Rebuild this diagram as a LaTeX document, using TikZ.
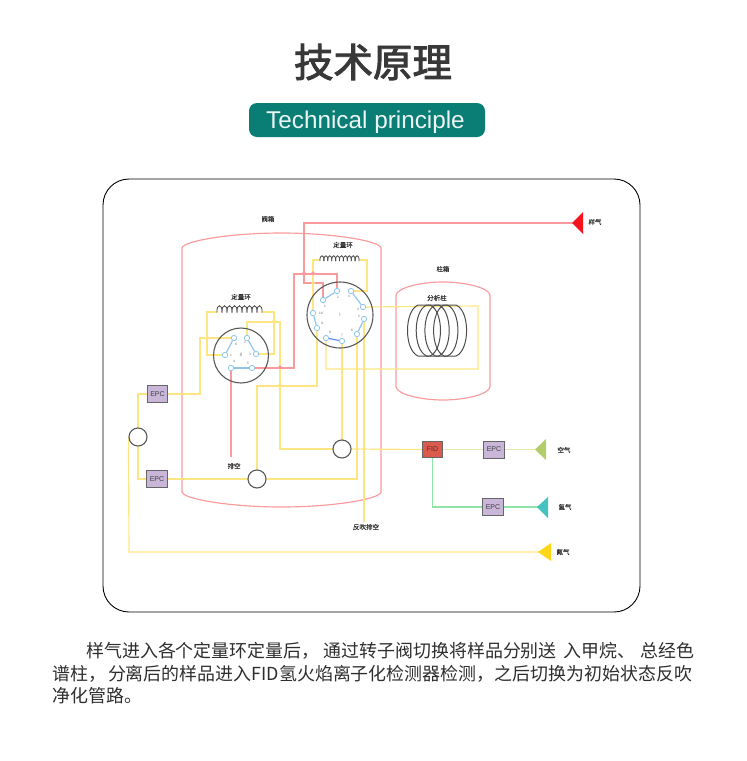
\documentclass[tikz,border=0pt]{standalone}
\usepackage{fontspec}
\setmainfont{Liberation Sans}
\newfontfamily\cjk{Noto Sans CJK SC}
\newfontfamily\cjkm[FakeBold=.15]{Noto Sans CJK SC}
\newfontfamily\cjkb[FakeBold=2.4]{Noto Sans CJK SC}
\usepackage{tikz}
\usetikzlibrary{calc}
\usetikzlibrary{positioning}
\usetikzlibrary{backgrounds}
\definecolor{pipeY}{HTML}{FDE681}
\definecolor{pipeR}{HTML}{FB9A9C}
\definecolor{pipeB}{HTML}{8FC6EC}
\definecolor{pipeG}{HTML}{8FE3A8}
\definecolor{pipeL}{HTML}{E3EBAA}
\definecolor{epcFill}{HTML}{C9B6D9}
\definecolor{fidFill}{HTML}{DB5A4E}
\definecolor{tealTag}{HTML}{0A7D74}
\definecolor{srcS}{HTML}{F5141E}
\definecolor{srcA}{HTML}{B5CC6A}
\definecolor{srcH}{HTML}{45C3C0}
\definecolor{srcN}{HTML}{FFD71A}
\begin{document}
\begin{tikzpicture}[
x=1pt,y=-1pt,
YPipe/.style={draw=pipeY,line width=1.15pt},
RPipe/.style={draw=pipeR,line width=1.15pt},
BPipe/.style={draw=pipeB,line width=1.2pt},
GPipe/.style={draw=pipeG,line width=1.15pt},
LPipe/.style={draw=pipeL,line width=1.15pt},
EPC/.style={draw=black!60,fill=epcFill,line width=.9pt,minimum width=20.5pt,minimum height=17pt,inner sep=0pt,font=\fontsize{7}{7}\selectfont,text=black!75},
Valve/.style={circle,draw=black!65,fill=white,line width=1.1pt,minimum size=18pt,inner sep=0pt},
Rotor/.style={circle,draw=black!65,line width=1.1pt,inner sep=0pt},
Port/.style={circle,draw=pipeB,fill=white,line width=.8pt,minimum size=5.4pt,inner sep=0pt},
Tag/.style={font=\cjkm\fontsize{6.5}{7}\selectfont,text=black!80,inner sep=0pt},
Num/.style={font=\fontsize{3.2}{3}\selectfont,text=black!60,inner sep=0pt},
Coil/.style={draw=black!70,line width=.85pt},
Column/.style={draw=black!70,line width=1pt}
]
\useasboundingbox (0,0) rectangle (747,761);

%title
\node[font=\cjkb\fontsize{39.5}{40}\selectfont,text=black!78,inner sep=0pt] (Title) at (373,62) {技术原理};
\node[fill=tealTag,rounded corners=8pt,minimum width=236pt,minimum height=34pt,inner sep=0pt,text=white!92!tealTag,text height=16pt,text depth=0pt,font=\fontsize{24.3}{25}\selectfont] (Subtitle) at (367,120) {\hspace*{-3pt}Technical principle};

%frame
\draw[black,line width=.9pt,rounded corners=26pt] (103,179) rectangle (640,612);

%rotary valve II
\node[Rotor,minimum size=55pt] (RotorB) at (241,355.5) {};
\node[Num,font=\cjk\fontsize{4.5}{4}\selectfont] (RotorBName) at (241,355) {II};
\node[Port] (Bp1) at (225,355) {};
\node[Port] (Bp2) at (256,354) {};
\node[Port] (Bp3) at (234,338) {};
\node[Port] (Bp4) at (247,338) {};
\node[Port] (Bp5) at (231,368) {};
\node[Port] (Bp6) at (252,368) {};
\node[Num] (Bn1) at (231,355) {1};
\node[Num] (Bn2) at (245,342) {2};
\node[Num] (Bn3) at (250,354) {3};
\node[Num] (Bn4) at (234,361) {4};
\node[Num] (Bn5) at (248,363) {5};
\node[Num] (Bn6) at (236,344) {6};

%rotary valve I
\node[Rotor,minimum size=66pt] (RotorA) at (340,315) {};
\node[Num,font=\cjk\fontsize{4.5}{4}\selectfont] (RotorAName) at (340,315) {I};
\node[Port] (Ap1) at (323,300) {};
\node[Port] (Ap2) at (337,291) {};
\node[Port] (Ap3) at (351,291) {};
\node[Port] (Ap4) at (363,307) {};
\node[Port] (Ap5) at (364,319) {};
\node[Port] (Ap6) at (357,334) {};
\node[Port] (Ap7) at (342,341) {};
\node[Port] (Ap8) at (326,338) {};
\node[Port] (Ap9) at (317,328) {};
\node[Port] (Ap10) at (313,313) {};
\foreach \Nx/\Ny/\Nt in {325/306/1,338/297/2,349/296/3,358/309/4,359/316/5,352/330/6,342/335/7,330/332/8,322/323/9,321/313/10}
  \node[Num] at (\Nx,\Ny) {\Nt};

%boxes
\node[EPC] (EpcA) at (157.5,394) {EPC};
\node[EPC] (EpcB) at (157,479) {EPC};
\node[EPC] (EpcC) at (494,449.5) {EPC};
\node[EPC] (EpcD) at (493,507) {EPC};
\node[EPC,fill=fidFill,text=black!55!fidFill,minimum height=16pt] (Fid) at (432.5,449.5) {FID};
\node[Valve] (ValveA) at (138,437) {};
\node[Valve] (ValveB) at (257,479) {};
\node[Valve] (ValveC) at (342,449) {};

%line ends
\coordinate (SampleEnd) at (575,223);
\coordinate (AirEnd) at (540,449.5);
\coordinate (HydrEnd) at (540,507);
\coordinate (NitrEnd) at (541,552);
\coordinate (VentEnd) at (231,457);
\coordinate (BackEnd) at (364,522);

%column box corners
\coordinate (ColTop) at (478,306);
\coordinate (ColBot) at (478,369);

\begin{scope}[on background layer]
%ovens
\draw[RPipe] (182,248) -- (182,492) .. controls (183,499) and (230,507) .. (281.5,507) .. controls (333,507) and (380,499) .. (381,492) -- (381,248) .. controls (380,241) and (333,233) .. (281.5,233) .. controls (230,233) and (183,241) .. (182,248) -- cycle;
\draw[RPipe] (396,295) .. controls (397,288) and (420,282) .. (443,282) .. controls (466,282) and (489,288) .. (490,295) -- (490,387) .. controls (489,394) and (466,400) .. (443,400) .. controls (420,400) and (397,394) .. (396,387) -- cycle;

%yellow lines
\draw[YPipe] (Ap10.center) -- (313,260) -- (320,260);
\draw[YPipe] (359,260) -- (367,260) -- (367,291) -- (Ap3.center);
\draw[YPipe] (217,312) -- (207,312) -- (207,355) -- (Bp1.center);
\draw[YPipe] (262,312) -- (274,312) -- (274,354) -- (Bp2.center);
\draw[YPipe] (Bp4.center) -- (247,322) -- (280,322) -- (280,449) -- (ValveC.center);
\draw[YPipe] (Bp3.center) -- (200,338) -- (200,394) -- (EpcA.center);
\draw[YPipe] (EpcA.center) -- (138,394) -- (138,479) -- (EpcB.center);
\draw[YPipe] (EpcB.center) -- (357,479) -- (Ap6.center);
\draw[YPipe] (ValveB.center) -- (257,386) -- (317,386) -- (Ap9.center);
\draw[YPipe] (Ap7.center) -- (ValveC.center);
\draw[YPipe] (Ap8.center) -- (326,369) -- (ColBot) -- (ColTop) -- (Ap4.center);
\draw[YPipe] (Ap5.center) -- (BackEnd);
\draw[YPipe] (ValveC.center) -- (Fid.center);
\draw[YPipe] (ValveA.west) -- (129,552) -- (NitrEnd);
\draw[LPipe] (Fid.center) -- (AirEnd);
\draw[GPipe] (Fid.center) -- (432.5,507) -- (HydrEnd);

%sample line
\draw[RPipe] (SampleEnd) -- (304,223) -- (304,283) -- (323,283) -- (Ap1.center);
\draw[RPipe] (Ap2.center) -- (337,274) -- (294,274) -- (294,368) -- (Bp6.center);
\draw[RPipe] (Bp5.center) -- (VentEnd);

%junction bumps
\foreach \Jx/\Jy/\Jc in {304/273/pipeR,313/273/pipeR,313/283/pipeY,207/338/pipeY,274/321/pipeY,280/367/pipeR,280/385/pipeY,357/448.5/pipeY,364/448.5/pipeY}
  \fill[\Jc] (\Jx,\Jy) circle (1.8pt);

%links in the rotors
\draw[BPipe] (Bp1) -- (Bp3);
\draw[BPipe] (Bp2) -- (Bp4);
\draw[BPipe] (Bp5) -- (Bp6);
\draw[BPipe] (Ap1) -- (Ap2);
\draw[BPipe] (Ap3) -- (Ap4);
\draw[BPipe] (Ap5) -- (Ap6);
\draw[BPipe,draw=pipeB!70!blue] (Ap7) -- (Ap8);
\draw[BPipe] (Ap9) -- (Ap10);
\end{scope}

%coils
\foreach \k in {0,...,9}
  \draw[Coil] ({320+\k*3.9},261) .. controls ({319.5+\k*3.9},254) and ({324.5+\k*3.9},254) .. ({323.9+\k*3.9},261);
\foreach \k in {0,...,8}
  \draw[Coil] ({217+\k*5},312.5) .. controls ({216.3+\k*5},303.5) and ({222.7+\k*5},303.5) .. ({222+\k*5},312.5);

%column
\foreach \Cx in {0,8.7,17.4,26.1}
  \draw[Column] (\Cx+418,305) .. controls (\Cx+404,311) and (\Cx+404,350) .. (\Cx+418,356) -- (\Cx+430,356) .. controls (\Cx+444,350) and (\Cx+444,311) .. (\Cx+430,305) -- cycle;

%tags
\node[Tag] (OvenA) at (268,219) {阀箱};
\node[Tag] (OvenB) at (443,269) {柱箱};
\node[Tag] (ColumnName) at (437,298) {分析柱};
\node[Tag] (LoopA) at (343,245) {定量环};
\node[Tag] (LoopB) at (241,297) {定量环};
\node[Tag] (VentA) at (234,466) {排空};
\node[Tag] (VentB) at (366,527) {反吹排空};
\node[Tag] (GasS) at (595,222) {样气};
\node[Tag] (GasA) at (564,450) {空气};
\node[Tag] (GasH) at (565,507) {氢气};
\node[Tag] (GasN) at (563,552) {氮气};

%sources
\fill[srcS] (572,223) -- (583,212) -- (583,234) -- cycle;
\fill[srcA] (535,449.5) -- (546,439) -- (546,460) -- cycle;
\fill[srcH] (537,507) -- (548,497) -- (548,518) -- cycle;
\fill[srcN] (538,552) -- (551,543) -- (551,561) -- cycle;

%text
\node[anchor=north west,inner sep=0pt,align=left,text=black!82,font=\cjk\fontsize{17.95}{22.5}\selectfont] (Body) at (52,642.5) {\hspace*{34pt}样气进入各个定量环定量后，\hspace{4pt}通过转子阀切换将样品分别送\hspace{7pt}入甲烷、\hspace{5pt}总经色\\谱柱，\hspace{2pt}分离后的样品进入FID氢火焰离子化检测器检测，之后切换为初始状态反吹\\净化管路。};
\end{tikzpicture}
\end{document}
